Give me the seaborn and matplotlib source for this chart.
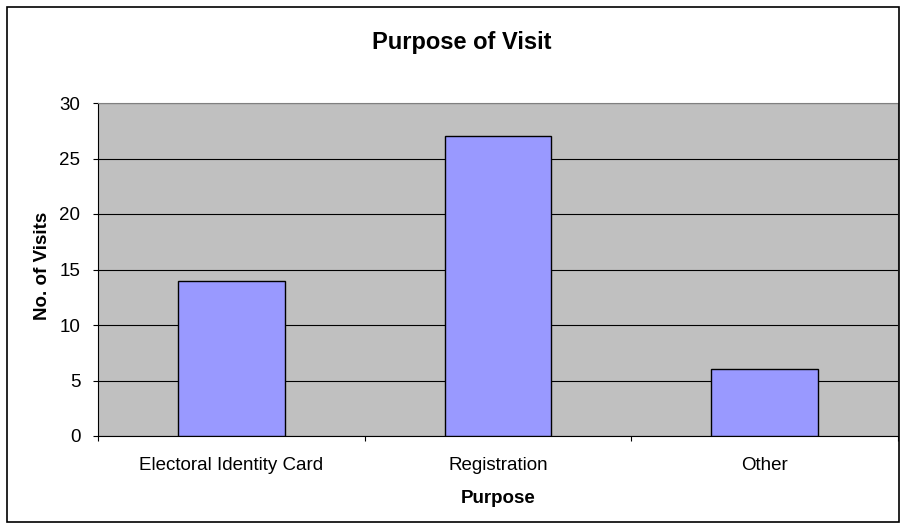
import matplotlib
matplotlib.use("Agg")
import matplotlib.pyplot as plt
import seaborn as sns
import pandas as pd
from matplotlib.patches import Rectangle

categories = ["Electoral Identity Card", "Registration", "Other"]
visits = [14, 27, 6]
y_ticks = [0, 5, 10, 15, 20, 25, 30]

sns.set_style("white")
plt.rcParams['font.family'] = ['Liberation Sans', 'DejaVu Sans']
plt.rcParams['text.color'] = 'black'
plt.rcParams['axes.labelcolor'] = 'black'
plt.rcParams['xtick.color'] = 'black'
plt.rcParams['ytick.color'] = 'black'
plt.rcParams['xtick.bottom'] = True
plt.rcParams['ytick.left'] = True

df = pd.DataFrame({"Purpose": categories, "Visits": visits})

fig = plt.figure(figsize=(9.03, 5.27), dpi=100)
W, H = 903, 527
ax = fig.add_axes([98 / W, 1 - 436 / H, 800 / W, 333 / H])
ax.set_facecolor("#C0C0C0")

sns.barplot(data=df, x="Purpose", y="Visits", color="#9999FF", width=0.4,
            edgecolor="black", linewidth=1, saturation=1, ax=ax, zorder=3)

ax.set_xlim(-0.5, 2.5)
ax.set_ylim(0, 30)
ax.set_yticks(y_ticks)
ax.yaxis.grid(True, color="black", linewidth=0.8, zorder=1)
ax.set_axisbelow(True)
for b in ax.patches:
    b.set_zorder(3)

ax.set_xticks(range(len(categories)))
ax.set_xticklabels(categories)
ax.set_xticks([-0.5, 0.5, 1.5, 2.5], minor=True)
ax.tick_params(axis="x", which="major", bottom=True, length=0, pad=15, labelsize=13.5)
ax.tick_params(axis="x", which="minor", bottom=True, length=3.6, width=0.8, color="black", direction="out")
ax.tick_params(axis="y", left=True, length=3.6, width=0.8, color="black", direction="out", pad=9, labelsize=13.5)

for s in ["left", "bottom"]:
    ax.spines[s].set_color("black")
    ax.spines[s].set_linewidth(0.8)
for s in ["top", "right"]:
    ax.spines[s].set_color("#808080")
    ax.spines[s].set_linewidth(0.8)

ax.set_xlabel("Purpose", fontsize=13.5, fontweight="bold")
ax.set_ylabel("No. of Visits", fontsize=13.5, fontweight="bold")
ax.xaxis.set_label_coords(0.5, (436 - 490) / 333)
ax.yaxis.set_label_coords((51 - 98) / 800, 0.51)

fig.text(462 / W, 1 - 42 / H, "Purpose of Visit", ha="center", va="center",
         fontsize=17, fontweight="bold")

fig.patches.append(Rectangle((7 / W, 1 - 522 / H), 892 / W, 515 / H,
                             transform=fig.transFigure, fill=False,
                             edgecolor="black", linewidth=1.2))

fig.savefig("out.png", dpi=100)
